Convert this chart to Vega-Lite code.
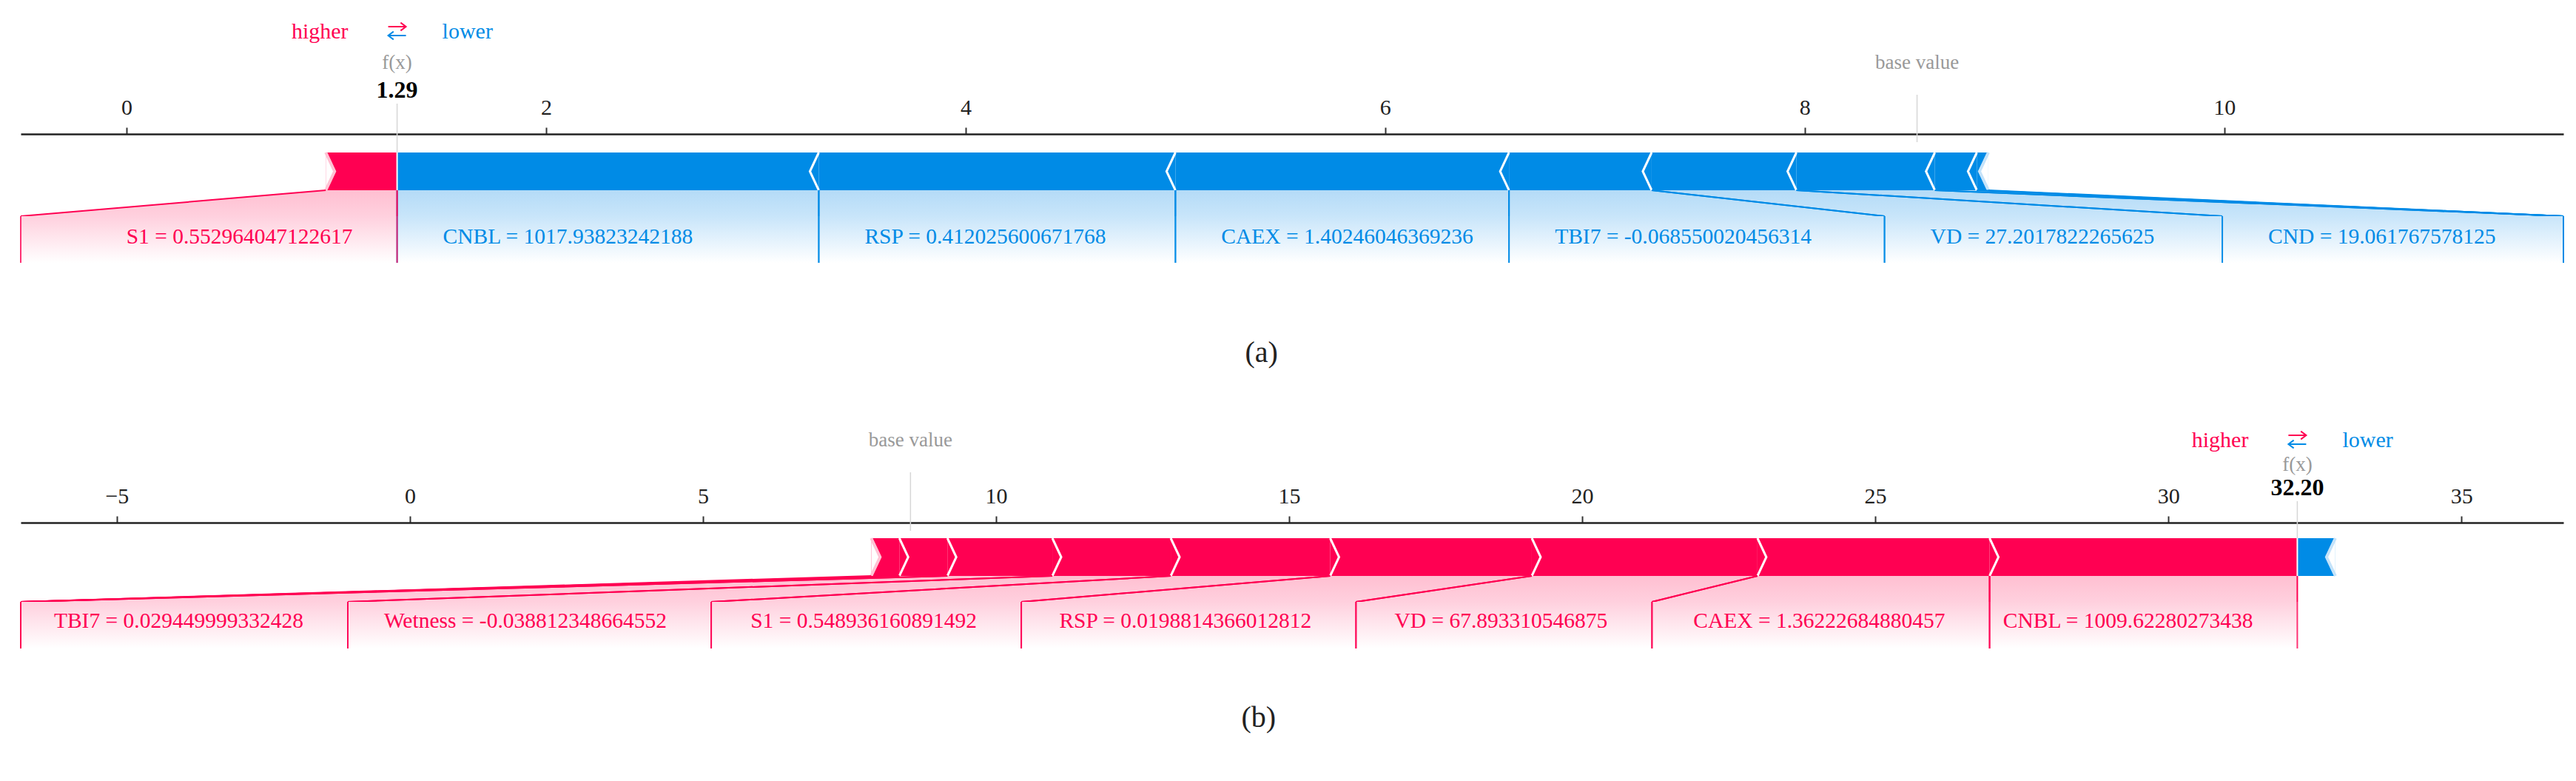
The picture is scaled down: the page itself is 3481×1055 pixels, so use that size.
{
  "$schema": "https://vega.github.io/schema/vega-lite/v6.json",
  "background": "white",
  "padding": {"left": 27, "top": 0, "right": 18, "bottom": 0},
  "spacing": 0,
  "bounds": "flush",
  "config": {"view": {"stroke": null}, "axis": {"grid": false}, "text": {"font": "Liberation Serif"}},
  "datasets": {
    "fa": [
      {"feature": "S1", "text": "S1 = 0.552964047122617", "dir": "pos", "start": 0.95, "end": 1.29, "lab_lo": -0.504, "lab_hi": 1.29},
      {"feature": "CNBL", "text": "CNBL = 1017.93823242188", "dir": "neg", "start": 1.29, "end": 3.30, "lab_lo": 1.29, "lab_hi": 3.30},
      {"feature": "RSP", "text": "RSP = 0.412025600671768", "dir": "neg", "start": 3.30, "end": 5.00, "lab_lo": 3.30, "lab_hi": 5.00},
      {"feature": "CAEX", "text": "CAEX = 1.40246046369236", "dir": "neg", "start": 5.00, "end": 6.59, "lab_lo": 5.00, "lab_hi": 6.59},
      {"feature": "TBI7", "text": "TBI7 = -0.068550020456314", "dir": "neg", "start": 6.59, "end": 7.27, "lab_lo": 6.59, "lab_hi": 8.38},
      {"feature": "VD", "text": "VD = 27.2017822265625", "dir": "neg", "start": 7.27, "end": 7.96, "lab_lo": 8.38, "lab_hi": 9.99},
      {"feature": "CND", "text": "CND = 19.061767578125", "dir": "neg", "start": 7.96, "end": 8.62, "lab_lo": 9.99, "lab_hi": 11.616},
      {"feature": "other1", "text": "", "dir": "neg", "start": 8.62, "end": 8.82, "lab_lo": 11.616, "lab_hi": 11.616},
      {"feature": "other2", "text": "", "dir": "neg", "start": 8.82, "end": 8.875, "lab_lo": 11.616, "lab_hi": 11.616}
    ],
    "ma": [{"fx": 1.29, "fx_text": "1.29", "base": 8.535}],
    "fb": [
      {"feature": "other1", "text": "", "dir": "pos", "start": 7.87, "end": 8.35, "lab_lo": -6.64, "lab_hi": -6.64},
      {"feature": "other2", "text": "", "dir": "pos", "start": 8.35, "end": 9.17, "lab_lo": -6.64, "lab_hi": -6.64},
      {"feature": "TBI7", "text": "TBI7 = 0.029449999332428", "dir": "pos", "start": 9.17, "end": 10.96, "lab_lo": -6.64, "lab_hi": -1.06},
      {"feature": "Wetness", "text": "Wetness = -0.038812348664552", "dir": "pos", "start": 10.96, "end": 12.98, "lab_lo": -1.06, "lab_hi": 5.14},
      {"feature": "S1", "text": "S1 = 0.548936160891492", "dir": "pos", "start": 12.98, "end": 15.70, "lab_lo": 5.14, "lab_hi": 10.43},
      {"feature": "RSP", "text": "RSP = 0.0198814366012812", "dir": "pos", "start": 15.70, "end": 19.14, "lab_lo": 10.43, "lab_hi": 16.14},
      {"feature": "VD", "text": "VD = 67.893310546875", "dir": "pos", "start": 19.14, "end": 22.99, "lab_lo": 16.14, "lab_hi": 21.19},
      {"feature": "CAEX", "text": "CAEX = 1.36222684880457", "dir": "pos", "start": 22.99, "end": 26.95, "lab_lo": 21.19, "lab_hi": 26.95},
      {"feature": "CNBL", "text": "CNBL = 1009.62280273438", "dir": "pos", "start": 26.95, "end": 32.20, "lab_lo": 26.95, "lab_hi": 32.20},
      {"feature": "other3", "text": "", "dir": "neg", "start": 32.20, "end": 32.85}
    ],
    "mb": [{"fx": 32.2, "fx_text": "32.20", "base": 8.54}]
  },
  "vconcat": [
    {
      "width": 3436, "height": 257,
      "layer": [
        {"data": {"name": "fa"}, "mark": {"type": "rect"},
          "encoding": {
            "x": {"field": "start", "type": "quantitative", "scale": {"domain": [-0.504, 11.616], "nice": false, "zero": false},
              "axis": {"orient": "top", "offset": -181, "values": [0, 2, 4, 6, 8, 10], "format": "d", "title": null, "grid": false, "labelFont": "Liberation Serif", "labelFontSize": 30, "labelColor": "#222222", "labelPadding": 12, "tickColor": "#333333", "tickSize": 9, "tickWidth": 2, "domainColor": "#222222", "domainWidth": 2.5, "labelFlush": false, "labelOverlap": false}},
            "x2": {"field": "end"},
            "y": {"datum": 206, "type": "quantitative", "scale": {"domain": [0, 257], "reverse": true, "nice": false, "zero": false}, "axis": null},
            "y2": {"datum": 257},
            "color": {"field": "dir", "type": "nominal", "scale": {"domain": ["pos", "neg"], "range": ["#ff0052", "#008be6"]}, "legend": null}
          }},
        {"data": {"name": "fa"}, "transform": [{"filter": "datum.dir == 'pos'"}],
          "mark": {"type": "point", "shape": "M0,-1L0.47,0L0,1", "filled": false, "size": 2601, "strokeWidth": 3, "opacity": 1, "color": "#ffffff"},
          "encoding": {"x": {"field": "start", "type": "quantitative", "scale": {"domain": [-0.504, 11.616], "nice": false, "zero": false}}, "y": {"datum": 231.5, "type": "quantitative", "scale": {"domain": [0, 257], "reverse": true, "nice": false, "zero": false}}}},
        {"data": {"name": "fa"}, "transform": [{"filter": "datum.dir == 'neg'"}],
          "mark": {"type": "point", "shape": "M0,-1L-0.47,0L0,1", "filled": false, "size": 2601, "strokeWidth": 3, "opacity": 1, "color": "#ffffff"},
          "encoding": {"x": {"field": "end", "type": "quantitative", "scale": {"domain": [-0.504, 11.616], "nice": false, "zero": false}}, "y": {"datum": 231.5, "type": "quantitative", "scale": {"domain": [0, 257], "reverse": true, "nice": false, "zero": false}}}},
        {"data": {"name": "fa"}, "transform": [{"filter": "datum.dir == 'pos'"}, {"joinaggregate": [{"op": "min", "field": "start", "as": "edge"}]}, {"filter": "datum.start == datum.edge"}],
          "mark": {"type": "point", "shape": "M0,-1L0.47,0L0,1Z", "filled": true, "size": 2601, "strokeWidth": 0, "opacity": 1, "color": "#ffffff"},
          "encoding": {"x": {"field": "start", "type": "quantitative", "scale": {"domain": [-0.504, 11.616], "nice": false, "zero": false}}, "y": {"datum": 231.5, "type": "quantitative", "scale": {"domain": [0, 257], "reverse": true, "nice": false, "zero": false}}}},
        {"data": {"name": "fa"}, "transform": [{"filter": "datum.dir == 'pos'"}, {"joinaggregate": [{"op": "min", "field": "start", "as": "edge"}]}, {"filter": "datum.start == datum.edge"}],
          "mark": {"type": "point", "shape": "M0,-1L0.47,0L0,1", "filled": false, "size": 2601, "strokeWidth": 4, "opacity": 1, "color": "#ffc2d4"},
          "encoding": {"x": {"field": "start", "type": "quantitative", "scale": {"domain": [-0.504, 11.616], "nice": false, "zero": false}}, "y": {"datum": 231.5, "type": "quantitative", "scale": {"domain": [0, 257], "reverse": true, "nice": false, "zero": false}}}},
        {"data": {"name": "fa"}, "transform": [{"filter": "datum.dir == 'neg'"}, {"joinaggregate": [{"op": "max", "field": "end", "as": "edge"}]}, {"filter": "datum.end == datum.edge"}],
          "mark": {"type": "point", "shape": "M0,-1L-0.47,0L0,1Z", "filled": true, "size": 2601, "strokeWidth": 0, "opacity": 1, "color": "#ffffff"},
          "encoding": {"x": {"field": "end", "type": "quantitative", "scale": {"domain": [-0.504, 11.616], "nice": false, "zero": false}}, "y": {"datum": 231.5, "type": "quantitative", "scale": {"domain": [0, 257], "reverse": true, "nice": false, "zero": false}}}},
        {"data": {"name": "fa"}, "transform": [{"filter": "datum.dir == 'neg'"}, {"joinaggregate": [{"op": "max", "field": "end", "as": "edge"}]}, {"filter": "datum.end == datum.edge"}],
          "mark": {"type": "point", "shape": "M0,-1L-0.47,0L0,1", "filled": false, "size": 2601, "strokeWidth": 4, "opacity": 1, "color": "#c4e3fa"},
          "encoding": {"x": {"field": "end", "type": "quantitative", "scale": {"domain": [-0.504, 11.616], "nice": false, "zero": false}}, "y": {"datum": 231.5, "type": "quantitative", "scale": {"domain": [0, 257], "reverse": true, "nice": false, "zero": false}}}},
        {"data": {"name": "ma"}, "mark": {"type": "rule", "color": "#ffffff", "strokeWidth": 2},
          "encoding": {"x": {"field": "fx", "type": "quantitative", "scale": {"domain": [-0.504, 11.616], "nice": false, "zero": false}}, "y": {"datum": 206, "type": "quantitative", "scale": {"domain": [0, 257], "reverse": true, "nice": false, "zero": false}}, "y2": {"datum": 257}}},
        {"data": {"name": "ma"}, "mark": {"type": "rule", "color": "#d6d6d6", "strokeWidth": 1.5},
          "encoding": {"x": {"field": "fx", "type": "quantitative", "scale": {"domain": [-0.504, 11.616], "nice": false, "zero": false}}, "y": {"datum": 140, "type": "quantitative", "scale": {"domain": [0, 257], "reverse": true, "nice": false, "zero": false}}, "y2": {"datum": 206}}},
        {"data": {"name": "ma"}, "mark": {"type": "rule", "color": "#d6d6d6", "strokeWidth": 1.5},
          "encoding": {"x": {"field": "base", "type": "quantitative", "scale": {"domain": [-0.504, 11.616], "nice": false, "zero": false}}, "y": {"datum": 128, "type": "quantitative", "scale": {"domain": [0, 257], "reverse": true, "nice": false, "zero": false}}, "y2": {"datum": 192}}},
        {"data": {"name": "ma"}, "mark": {"type": "text", "align": "right", "baseline": "middle", "dx": -66, "fontSize": 30, "color": "#ff0052", "font": "Liberation Serif"},
          "encoding": {"x": {"field": "fx", "type": "quantitative", "scale": {"domain": [-0.504, 11.616], "nice": false, "zero": false}}, "y": {"datum": 43, "type": "quantitative", "scale": {"domain": [0, 257], "reverse": true, "nice": false, "zero": false}}, "text": {"value": "higher"}}},
        {"data": {"name": "ma"}, "mark": {"type": "text", "align": "left", "baseline": "middle", "dx": 61, "fontSize": 30, "color": "#008be6", "font": "Liberation Serif"},
          "encoding": {"x": {"field": "fx", "type": "quantitative", "scale": {"domain": [-0.504, 11.616], "nice": false, "zero": false}}, "y": {"datum": 43, "type": "quantitative", "scale": {"domain": [0, 257], "reverse": true, "nice": false, "zero": false}}, "text": {"value": "lower"}}},
        {"data": {"name": "ma"}, "mark": {"type": "point", "shape": "M-1,0L1,0M0.4,-0.45L1,0L0.4,0.45", "filled": false, "size": 576, "strokeWidth": 2, "opacity": 1, "color": "#ff0052"},
          "encoding": {"x": {"field": "fx", "type": "quantitative", "scale": {"domain": [-0.504, 11.616], "nice": false, "zero": false}}, "y": {"datum": 36, "type": "quantitative", "scale": {"domain": [0, 257], "reverse": true, "nice": false, "zero": false}}}},
        {"data": {"name": "ma"}, "mark": {"type": "point", "shape": "M1,0L-1,0M-0.4,-0.45L-1,0L-0.4,0.45", "filled": false, "size": 576, "strokeWidth": 2, "opacity": 1, "color": "#008be6"},
          "encoding": {"x": {"field": "fx", "type": "quantitative", "scale": {"domain": [-0.504, 11.616], "nice": false, "zero": false}}, "y": {"datum": 48, "type": "quantitative", "scale": {"domain": [0, 257], "reverse": true, "nice": false, "zero": false}}}},
        {"data": {"name": "ma"}, "mark": {"type": "text", "align": "center", "baseline": "middle", "fontSize": 27, "color": "#999999", "font": "Liberation Serif"},
          "encoding": {"x": {"field": "fx", "type": "quantitative", "scale": {"domain": [-0.504, 11.616], "nice": false, "zero": false}}, "y": {"datum": 85, "type": "quantitative", "scale": {"domain": [0, 257], "reverse": true, "nice": false, "zero": false}}, "text": {"value": "f(x)"}}},
        {"data": {"name": "ma"}, "mark": {"type": "text", "align": "center", "baseline": "middle", "fontSize": 32, "fontWeight": "bold", "color": "#000000", "font": "Liberation Serif"},
          "encoding": {"x": {"field": "fx", "type": "quantitative", "scale": {"domain": [-0.504, 11.616], "nice": false, "zero": false}}, "y": {"datum": 122, "type": "quantitative", "scale": {"domain": [0, 257], "reverse": true, "nice": false, "zero": false}}, "text": {"field": "fx_text"}}},
        {"data": {"name": "ma"}, "mark": {"type": "text", "align": "center", "baseline": "middle", "fontSize": 27, "color": "#999999", "font": "Liberation Serif"},
          "encoding": {"x": {"field": "base", "type": "quantitative", "scale": {"domain": [-0.504, 11.616], "nice": false, "zero": false}}, "y": {"datum": 85, "type": "quantitative", "scale": {"domain": [0, 257], "reverse": true, "nice": false, "zero": false}}, "text": {"value": "base value"}}}
      ]
    },
    {
      "width": 3436, "height": 35,
      "layer": [
        {"data": {"name": "fa"}, "transform": [{"filter": "isValid(datum.lab_lo) && datum.dir == 'neg'"}, {"fold": ["start", "lab_lo"], "as": ["tier", "lo"]}, {"fold": ["end", "lab_hi"], "as": ["tier2", "hi"]}, {"filter": "(datum.tier == 'start') == (datum.tier2 == 'end')"}],
          "mark": {"type": "area", "orient": "horizontal", "fill": {"gradient": "linear", "x1": 0, "y1": 0, "x2": 0, "y2": 1, "stops": [{"offset": 0, "color": "#b4dbf7"}, {"offset": 1, "color": "#c8e5fa"}]}},
          "encoding": {"x": {"field": "lo", "type": "quantitative", "scale": {"domain": [-0.504, 11.616], "nice": false, "zero": false}, "axis": null}, "x2": {"field": "hi"}, "y": {"field": "tier", "type": "nominal", "scale": {"type": "point", "domain": ["start", "lab_lo"], "padding": 0}, "axis": null}, "detail": {"field": "feature"}}},
        {"data": {"name": "fa"}, "transform": [{"filter": "isValid(datum.lab_lo) && datum.dir == 'pos'"}, {"fold": ["start", "lab_lo"], "as": ["tier", "lo"]}, {"fold": ["end", "lab_hi"], "as": ["tier2", "hi"]}, {"filter": "(datum.tier == 'start') == (datum.tier2 == 'end')"}],
          "mark": {"type": "area", "orient": "horizontal", "fill": {"gradient": "linear", "x1": 0, "y1": 0, "x2": 0, "y2": 1, "stops": [{"offset": 0, "color": "#ffbfd1"}, {"offset": 1, "color": "#ffd0de"}]}},
          "encoding": {"x": {"field": "lo", "type": "quantitative", "scale": {"domain": [-0.504, 11.616], "nice": false, "zero": false}, "axis": null}, "x2": {"field": "hi"}, "y": {"field": "tier", "type": "nominal", "scale": {"type": "point", "domain": ["start", "lab_lo"], "padding": 0}, "axis": null}, "detail": {"field": "feature"}}},
        {"data": {"name": "fa"}, "transform": [{"filter": "isValid(datum.lab_lo)"}], "mark": {"type": "rule", "strokeWidth": 2},
          "encoding": {"x": {"field": "start", "type": "quantitative", "scale": {"domain": [-0.504, 11.616], "nice": false, "zero": false}, "axis": null}, "x2": {"field": "lab_lo"}, "y": {"datum": "start", "type": "nominal", "scale": {"type": "point", "domain": ["start", "lab_lo"], "padding": 0}, "axis": null}, "y2": {"datum": "lab_lo"}, "color": {"field": "dir", "type": "nominal", "scale": {"domain": ["pos", "neg"], "range": ["#ff6b96", "#5aaef0"]}, "legend": null}}},
        {"data": {"name": "fa"}, "transform": [{"filter": "isValid(datum.lab_lo)"}], "mark": {"type": "rule", "strokeWidth": 2},
          "encoding": {"x": {"field": "end", "type": "quantitative", "scale": {"domain": [-0.504, 11.616], "nice": false, "zero": false}, "axis": null}, "x2": {"field": "lab_hi"}, "y": {"datum": "start", "type": "nominal", "scale": {"type": "point", "domain": ["start", "lab_lo"], "padding": 0}, "axis": null}, "y2": {"datum": "lab_lo"}, "color": {"field": "dir", "type": "nominal", "scale": {"domain": ["pos", "neg"], "range": ["#ff6b96", "#5aaef0"]}, "legend": null}}}
      ]
    },
    {
      "width": 3436, "height": 238,
      "layer": [
        {"data": {"name": "fa"}, "transform": [{"filter": "isValid(datum.lab_lo) && datum.dir == 'neg'"}],
          "mark": {"type": "rect", "fill": {"gradient": "linear", "x1": 0, "y1": 0, "x2": 0, "y2": 1, "stops": [{"offset": 0, "color": "#c8e5fa"}, {"offset": 1, "color": "#ffffff"}]}},
          "encoding": {"x": {"field": "lab_lo", "type": "quantitative", "scale": {"domain": [-0.504, 11.616], "nice": false, "zero": false}, "axis": null}, "x2": {"field": "lab_hi"}, "y": {"datum": 0, "type": "quantitative", "scale": {"domain": [0, 238], "reverse": true, "nice": false, "zero": false}, "axis": null}, "y2": {"datum": 63}}},
        {"data": {"name": "fa"}, "transform": [{"filter": "isValid(datum.lab_lo) && datum.dir == 'pos'"}],
          "mark": {"type": "rect", "fill": {"gradient": "linear", "x1": 0, "y1": 0, "x2": 0, "y2": 1, "stops": [{"offset": 0, "color": "#ffd0de"}, {"offset": 1, "color": "#ffffff"}]}},
          "encoding": {"x": {"field": "lab_lo", "type": "quantitative", "scale": {"domain": [-0.504, 11.616], "nice": false, "zero": false}, "axis": null}, "x2": {"field": "lab_hi"}, "y": {"datum": 0, "type": "quantitative", "scale": {"domain": [0, 238], "reverse": true, "nice": false, "zero": false}, "axis": null}, "y2": {"datum": 63}}},
        {"data": {"name": "fa"}, "transform": [{"filter": "isValid(datum.lab_lo)"}], "mark": {"type": "rule", "strokeWidth": 2, "opacity": 0.8},
          "encoding": {"x": {"field": "lab_lo", "type": "quantitative", "scale": {"domain": [-0.504, 11.616], "nice": false, "zero": false}, "axis": null}, "y": {"datum": 0, "type": "quantitative", "scale": {"domain": [0, 238], "reverse": true, "nice": false, "zero": false}, "axis": null}, "y2": {"datum": 63}, "color": {"field": "dir", "type": "nominal", "scale": {"domain": ["pos", "neg"], "range": ["#ff6b96", "#5aaef0"]}, "legend": null}}},
        {"data": {"name": "fa"}, "transform": [{"filter": "isValid(datum.lab_lo)"}], "mark": {"type": "rule", "strokeWidth": 2, "opacity": 0.8},
          "encoding": {"x": {"field": "lab_hi", "type": "quantitative", "scale": {"domain": [-0.504, 11.616], "nice": false, "zero": false}, "axis": null}, "y": {"datum": 0, "type": "quantitative", "scale": {"domain": [0, 238], "reverse": true, "nice": false, "zero": false}, "axis": null}, "y2": {"datum": 63}, "color": {"field": "dir", "type": "nominal", "scale": {"domain": ["pos", "neg"], "range": ["#ff6b96", "#5aaef0"]}, "legend": null}}},
        {"data": {"name": "fa"}, "transform": [{"filter": "datum.dir == 'neg' && datum.text != ''"}],
          "mark": {"type": "text", "align": "left", "baseline": "middle", "dx": 62, "fontSize": 29.5, "color": "#008be6", "font": "Liberation Serif"},
          "encoding": {"x": {"field": "lab_lo", "type": "quantitative", "scale": {"domain": [-0.504, 11.616], "nice": false, "zero": false}, "axis": null}, "y": {"datum": 28, "type": "quantitative", "scale": {"domain": [0, 238], "reverse": true, "nice": false, "zero": false}, "axis": null}, "text": {"field": "text"}}},
        {"data": {"name": "fa"}, "transform": [{"filter": "datum.dir == 'pos' && datum.text != ''"}],
          "mark": {"type": "text", "align": "right", "baseline": "middle", "dx": -60, "fontSize": 29.5, "color": "#ff0052", "font": "Liberation Serif"},
          "encoding": {"x": {"field": "lab_hi", "type": "quantitative", "scale": {"domain": [-0.504, 11.616], "nice": false, "zero": false}, "axis": null}, "y": {"datum": 28, "type": "quantitative", "scale": {"domain": [0, 238], "reverse": true, "nice": false, "zero": false}, "axis": null}, "text": {"field": "text"}}},
        {"data": {"values": [{"cap": "(a)"}]},
          "mark": {"type": "text", "align": "center", "baseline": "middle", "fontSize": 40, "color": "#222222", "font": "Liberation Serif"},
          "encoding": {"x": {"datum": 5.41, "type": "quantitative", "scale": {"domain": [-0.504, 11.616], "nice": false, "zero": false}, "axis": null}, "y": {"datum": 185, "type": "quantitative", "scale": {"domain": [0, 238], "reverse": true, "nice": false, "zero": false}, "axis": null}, "text": {"field": "cap"}}}
      ]
    },
    {
      "width": 3436, "height": 248,
      "layer": [
        {"data": {"name": "fb"}, "mark": {"type": "rect"},
          "encoding": {
            "x": {"field": "start", "type": "quantitative", "scale": {"domain": [-6.64, 36.74], "nice": false, "zero": false},
              "axis": {"orient": "top", "offset": -176, "values": [-5, 0, 5, 10, 15, 20, 25, 30, 35], "format": "d", "title": null, "grid": false, "labelFont": "Liberation Serif", "labelFontSize": 30, "labelColor": "#222222", "labelPadding": 12, "tickColor": "#333333", "tickSize": 9, "tickWidth": 2, "domainColor": "#222222", "domainWidth": 2.5, "labelFlush": false, "labelOverlap": false}},
            "x2": {"field": "end"},
            "y": {"datum": 197, "type": "quantitative", "scale": {"domain": [0, 248], "reverse": true, "nice": false, "zero": false}, "axis": null},
            "y2": {"datum": 248},
            "color": {"field": "dir", "type": "nominal", "scale": {"domain": ["pos", "neg"], "range": ["#ff0052", "#008be6"]}, "legend": null}
          }},
        {"data": {"name": "fb"}, "transform": [{"filter": "datum.dir == 'pos'"}],
          "mark": {"type": "point", "shape": "M0,-1L0.47,0L0,1", "filled": false, "size": 2601, "strokeWidth": 3, "opacity": 1, "color": "#ffffff"},
          "encoding": {"x": {"field": "start", "type": "quantitative", "scale": {"domain": [-6.64, 36.74], "nice": false, "zero": false}}, "y": {"datum": 222.5, "type": "quantitative", "scale": {"domain": [0, 248], "reverse": true, "nice": false, "zero": false}}}},
        {"data": {"name": "fb"}, "transform": [{"filter": "datum.dir == 'neg'"}],
          "mark": {"type": "point", "shape": "M0,-1L-0.47,0L0,1", "filled": false, "size": 2601, "strokeWidth": 3, "opacity": 1, "color": "#ffffff"},
          "encoding": {"x": {"field": "end", "type": "quantitative", "scale": {"domain": [-6.64, 36.74], "nice": false, "zero": false}}, "y": {"datum": 222.5, "type": "quantitative", "scale": {"domain": [0, 248], "reverse": true, "nice": false, "zero": false}}}},
        {"data": {"name": "fb"}, "transform": [{"filter": "datum.dir == 'pos'"}, {"joinaggregate": [{"op": "min", "field": "start", "as": "edge"}]}, {"filter": "datum.start == datum.edge"}],
          "mark": {"type": "point", "shape": "M0,-1L0.47,0L0,1Z", "filled": true, "size": 2601, "strokeWidth": 0, "opacity": 1, "color": "#ffffff"},
          "encoding": {"x": {"field": "start", "type": "quantitative", "scale": {"domain": [-6.64, 36.74], "nice": false, "zero": false}}, "y": {"datum": 222.5, "type": "quantitative", "scale": {"domain": [0, 248], "reverse": true, "nice": false, "zero": false}}}},
        {"data": {"name": "fb"}, "transform": [{"filter": "datum.dir == 'pos'"}, {"joinaggregate": [{"op": "min", "field": "start", "as": "edge"}]}, {"filter": "datum.start == datum.edge"}],
          "mark": {"type": "point", "shape": "M0,-1L0.47,0L0,1", "filled": false, "size": 2601, "strokeWidth": 4, "opacity": 1, "color": "#ffc2d4"},
          "encoding": {"x": {"field": "start", "type": "quantitative", "scale": {"domain": [-6.64, 36.74], "nice": false, "zero": false}}, "y": {"datum": 222.5, "type": "quantitative", "scale": {"domain": [0, 248], "reverse": true, "nice": false, "zero": false}}}},
        {"data": {"name": "fb"}, "transform": [{"filter": "datum.dir == 'neg'"}, {"joinaggregate": [{"op": "max", "field": "end", "as": "edge"}]}, {"filter": "datum.end == datum.edge"}],
          "mark": {"type": "point", "shape": "M0,-1L-0.47,0L0,1Z", "filled": true, "size": 2601, "strokeWidth": 0, "opacity": 1, "color": "#ffffff"},
          "encoding": {"x": {"field": "end", "type": "quantitative", "scale": {"domain": [-6.64, 36.74], "nice": false, "zero": false}}, "y": {"datum": 222.5, "type": "quantitative", "scale": {"domain": [0, 248], "reverse": true, "nice": false, "zero": false}}}},
        {"data": {"name": "fb"}, "transform": [{"filter": "datum.dir == 'neg'"}, {"joinaggregate": [{"op": "max", "field": "end", "as": "edge"}]}, {"filter": "datum.end == datum.edge"}],
          "mark": {"type": "point", "shape": "M0,-1L-0.47,0L0,1", "filled": false, "size": 2601, "strokeWidth": 4, "opacity": 1, "color": "#c4e3fa"},
          "encoding": {"x": {"field": "end", "type": "quantitative", "scale": {"domain": [-6.64, 36.74], "nice": false, "zero": false}}, "y": {"datum": 222.5, "type": "quantitative", "scale": {"domain": [0, 248], "reverse": true, "nice": false, "zero": false}}}},
        {"data": {"name": "mb"}, "mark": {"type": "rule", "color": "#ffffff", "strokeWidth": 2},
          "encoding": {"x": {"field": "fx", "type": "quantitative", "scale": {"domain": [-6.64, 36.74], "nice": false, "zero": false}}, "y": {"datum": 197, "type": "quantitative", "scale": {"domain": [0, 248], "reverse": true, "nice": false, "zero": false}}, "y2": {"datum": 248}}},
        {"data": {"name": "mb"}, "mark": {"type": "rule", "color": "#d6d6d6", "strokeWidth": 1.5},
          "encoding": {"x": {"field": "fx", "type": "quantitative", "scale": {"domain": [-6.64, 36.74], "nice": false, "zero": false}}, "y": {"datum": 147, "type": "quantitative", "scale": {"domain": [0, 248], "reverse": true, "nice": false, "zero": false}}, "y2": {"datum": 197}}},
        {"data": {"name": "mb"}, "mark": {"type": "rule", "color": "#d6d6d6", "strokeWidth": 1.5},
          "encoding": {"x": {"field": "base", "type": "quantitative", "scale": {"domain": [-6.64, 36.74], "nice": false, "zero": false}}, "y": {"datum": 108, "type": "quantitative", "scale": {"domain": [0, 248], "reverse": true, "nice": false, "zero": false}}, "y2": {"datum": 187}}},
        {"data": {"name": "mb"}, "mark": {"type": "text", "align": "right", "baseline": "middle", "dx": -66, "fontSize": 30, "color": "#ff0052", "font": "Liberation Serif"},
          "encoding": {"x": {"field": "fx", "type": "quantitative", "scale": {"domain": [-6.64, 36.74], "nice": false, "zero": false}}, "y": {"datum": 65, "type": "quantitative", "scale": {"domain": [0, 248], "reverse": true, "nice": false, "zero": false}}, "text": {"value": "higher"}}},
        {"data": {"name": "mb"}, "mark": {"type": "text", "align": "left", "baseline": "middle", "dx": 61, "fontSize": 30, "color": "#008be6", "font": "Liberation Serif"},
          "encoding": {"x": {"field": "fx", "type": "quantitative", "scale": {"domain": [-6.64, 36.74], "nice": false, "zero": false}}, "y": {"datum": 65, "type": "quantitative", "scale": {"domain": [0, 248], "reverse": true, "nice": false, "zero": false}}, "text": {"value": "lower"}}},
        {"data": {"name": "mb"}, "mark": {"type": "point", "shape": "M-1,0L1,0M0.4,-0.45L1,0L0.4,0.45", "filled": false, "size": 576, "strokeWidth": 2, "opacity": 1, "color": "#ff0052"},
          "encoding": {"x": {"field": "fx", "type": "quantitative", "scale": {"domain": [-6.64, 36.74], "nice": false, "zero": false}}, "y": {"datum": 58, "type": "quantitative", "scale": {"domain": [0, 248], "reverse": true, "nice": false, "zero": false}}}},
        {"data": {"name": "mb"}, "mark": {"type": "point", "shape": "M1,0L-1,0M-0.4,-0.45L-1,0L-0.4,0.45", "filled": false, "size": 576, "strokeWidth": 2, "opacity": 1, "color": "#008be6"},
          "encoding": {"x": {"field": "fx", "type": "quantitative", "scale": {"domain": [-6.64, 36.74], "nice": false, "zero": false}}, "y": {"datum": 70, "type": "quantitative", "scale": {"domain": [0, 248], "reverse": true, "nice": false, "zero": false}}}},
        {"data": {"name": "mb"}, "mark": {"type": "text", "align": "center", "baseline": "middle", "fontSize": 27, "color": "#999999", "font": "Liberation Serif"},
          "encoding": {"x": {"field": "fx", "type": "quantitative", "scale": {"domain": [-6.64, 36.74], "nice": false, "zero": false}}, "y": {"datum": 98, "type": "quantitative", "scale": {"domain": [0, 248], "reverse": true, "nice": false, "zero": false}}, "text": {"value": "f(x)"}}},
        {"data": {"name": "mb"}, "mark": {"type": "text", "align": "center", "baseline": "middle", "fontSize": 32, "fontWeight": "bold", "color": "#000000", "font": "Liberation Serif"},
          "encoding": {"x": {"field": "fx", "type": "quantitative", "scale": {"domain": [-6.64, 36.74], "nice": false, "zero": false}}, "y": {"datum": 129, "type": "quantitative", "scale": {"domain": [0, 248], "reverse": true, "nice": false, "zero": false}}, "text": {"field": "fx_text"}}},
        {"data": {"name": "mb"}, "mark": {"type": "text", "align": "center", "baseline": "middle", "fontSize": 27, "color": "#999999", "font": "Liberation Serif"},
          "encoding": {"x": {"field": "base", "type": "quantitative", "scale": {"domain": [-6.64, 36.74], "nice": false, "zero": false}}, "y": {"datum": 65, "type": "quantitative", "scale": {"domain": [0, 248], "reverse": true, "nice": false, "zero": false}}, "text": {"value": "base value"}}}
      ]
    },
    {
      "width": 3436, "height": 35,
      "layer": [
        {"data": {"name": "fb"}, "transform": [{"filter": "isValid(datum.lab_lo) && datum.dir == 'neg'"}, {"fold": ["start", "lab_lo"], "as": ["tier", "lo"]}, {"fold": ["end", "lab_hi"], "as": ["tier2", "hi"]}, {"filter": "(datum.tier == 'start') == (datum.tier2 == 'end')"}],
          "mark": {"type": "area", "orient": "horizontal", "fill": {"gradient": "linear", "x1": 0, "y1": 0, "x2": 0, "y2": 1, "stops": [{"offset": 0, "color": "#b4dbf7"}, {"offset": 1, "color": "#c8e5fa"}]}},
          "encoding": {"x": {"field": "lo", "type": "quantitative", "scale": {"domain": [-6.64, 36.74], "nice": false, "zero": false}, "axis": null}, "x2": {"field": "hi"}, "y": {"field": "tier", "type": "nominal", "scale": {"type": "point", "domain": ["start", "lab_lo"], "padding": 0}, "axis": null}, "detail": {"field": "feature"}}},
        {"data": {"name": "fb"}, "transform": [{"filter": "isValid(datum.lab_lo) && datum.dir == 'pos'"}, {"fold": ["start", "lab_lo"], "as": ["tier", "lo"]}, {"fold": ["end", "lab_hi"], "as": ["tier2", "hi"]}, {"filter": "(datum.tier == 'start') == (datum.tier2 == 'end')"}],
          "mark": {"type": "area", "orient": "horizontal", "fill": {"gradient": "linear", "x1": 0, "y1": 0, "x2": 0, "y2": 1, "stops": [{"offset": 0, "color": "#ffbfd1"}, {"offset": 1, "color": "#ffd0de"}]}},
          "encoding": {"x": {"field": "lo", "type": "quantitative", "scale": {"domain": [-6.64, 36.74], "nice": false, "zero": false}, "axis": null}, "x2": {"field": "hi"}, "y": {"field": "tier", "type": "nominal", "scale": {"type": "point", "domain": ["start", "lab_lo"], "padding": 0}, "axis": null}, "detail": {"field": "feature"}}},
        {"data": {"name": "fb"}, "transform": [{"filter": "isValid(datum.lab_lo)"}], "mark": {"type": "rule", "strokeWidth": 2},
          "encoding": {"x": {"field": "start", "type": "quantitative", "scale": {"domain": [-6.64, 36.74], "nice": false, "zero": false}, "axis": null}, "x2": {"field": "lab_lo"}, "y": {"datum": "start", "type": "nominal", "scale": {"type": "point", "domain": ["start", "lab_lo"], "padding": 0}, "axis": null}, "y2": {"datum": "lab_lo"}, "color": {"field": "dir", "type": "nominal", "scale": {"domain": ["pos", "neg"], "range": ["#ff6b96", "#5aaef0"]}, "legend": null}}},
        {"data": {"name": "fb"}, "transform": [{"filter": "isValid(datum.lab_lo)"}], "mark": {"type": "rule", "strokeWidth": 2},
          "encoding": {"x": {"field": "end", "type": "quantitative", "scale": {"domain": [-6.64, 36.74], "nice": false, "zero": false}, "axis": null}, "x2": {"field": "lab_hi"}, "y": {"datum": "start", "type": "nominal", "scale": {"type": "point", "domain": ["start", "lab_lo"], "padding": 0}, "axis": null}, "y2": {"datum": "lab_lo"}, "color": {"field": "dir", "type": "nominal", "scale": {"domain": ["pos", "neg"], "range": ["#ff6b96", "#5aaef0"]}, "legend": null}}}
      ]
    },
    {
      "width": 3436, "height": 242,
      "layer": [
        {"data": {"name": "fb"}, "transform": [{"filter": "isValid(datum.lab_lo) && datum.dir == 'pos'"}],
          "mark": {"type": "rect", "fill": {"gradient": "linear", "x1": 0, "y1": 0, "x2": 0, "y2": 1, "stops": [{"offset": 0, "color": "#ffd0de"}, {"offset": 1, "color": "#ffffff"}]}},
          "encoding": {"x": {"field": "lab_lo", "type": "quantitative", "scale": {"domain": [-6.64, 36.74], "nice": false, "zero": false}, "axis": null}, "x2": {"field": "lab_hi"}, "y": {"datum": 0, "type": "quantitative", "scale": {"domain": [0, 242], "reverse": true, "nice": false, "zero": false}, "axis": null}, "y2": {"datum": 63}}},
        {"data": {"name": "fb"}, "transform": [{"filter": "isValid(datum.lab_lo)"}], "mark": {"type": "rule", "strokeWidth": 2, "opacity": 0.8},
          "encoding": {"x": {"field": "lab_lo", "type": "quantitative", "scale": {"domain": [-6.64, 36.74], "nice": false, "zero": false}, "axis": null}, "y": {"datum": 0, "type": "quantitative", "scale": {"domain": [0, 242], "reverse": true, "nice": false, "zero": false}, "axis": null}, "y2": {"datum": 63}, "color": {"field": "dir", "type": "nominal", "scale": {"domain": ["pos", "neg"], "range": ["#ff6b96", "#5aaef0"]}, "legend": null}}},
        {"data": {"name": "fb"}, "transform": [{"filter": "isValid(datum.lab_lo)"}], "mark": {"type": "rule", "strokeWidth": 2, "opacity": 0.8},
          "encoding": {"x": {"field": "lab_hi", "type": "quantitative", "scale": {"domain": [-6.64, 36.74], "nice": false, "zero": false}, "axis": null}, "y": {"datum": 0, "type": "quantitative", "scale": {"domain": [0, 242], "reverse": true, "nice": false, "zero": false}, "axis": null}, "y2": {"datum": 63}, "color": {"field": "dir", "type": "nominal", "scale": {"domain": ["pos", "neg"], "range": ["#ff6b96", "#5aaef0"]}, "legend": null}}},
        {"data": {"name": "fb"}, "transform": [{"filter": "datum.dir == 'pos' && datum.text != ''"}],
          "mark": {"type": "text", "align": "right", "baseline": "middle", "dx": -60, "fontSize": 29.5, "color": "#ff0052", "font": "Liberation Serif"},
          "encoding": {"x": {"field": "lab_hi", "type": "quantitative", "scale": {"domain": [-6.64, 36.74], "nice": false, "zero": false}, "axis": null}, "y": {"datum": 26, "type": "quantitative", "scale": {"domain": [0, 242], "reverse": true, "nice": false, "zero": false}, "axis": null}, "text": {"field": "text"}}},
        {"data": {"values": [{"cap": "(b)"}]},
          "mark": {"type": "text", "align": "center", "baseline": "middle", "fontSize": 40, "color": "#222222", "font": "Liberation Serif"},
          "encoding": {"x": {"datum": 14.48, "type": "quantitative", "scale": {"domain": [-6.64, 36.74], "nice": false, "zero": false}, "axis": null}, "y": {"datum": 157, "type": "quantitative", "scale": {"domain": [0, 242], "reverse": true, "nice": false, "zero": false}, "axis": null}, "text": {"field": "cap"}}}
      ]
    }
  ]
}
